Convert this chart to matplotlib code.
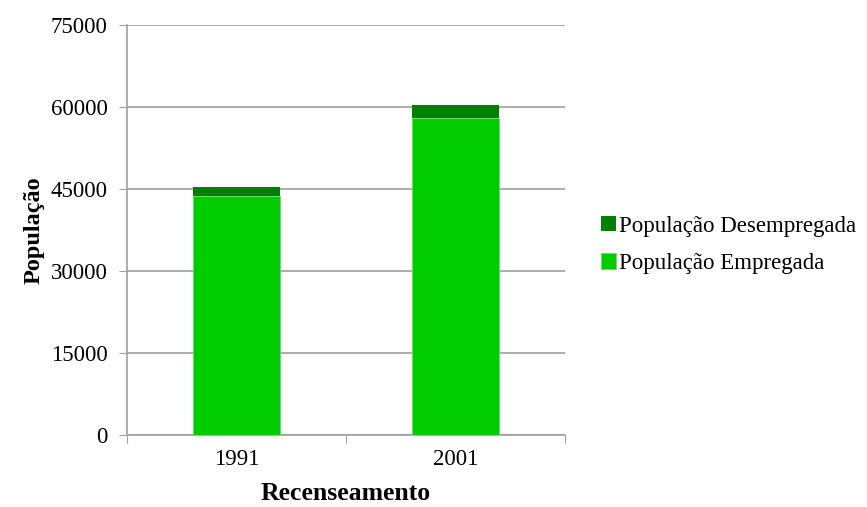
import matplotlib
matplotlib.use("Agg")
import matplotlib.pyplot as plt
import numpy as np

# Census data
anos = ["1991", "2001"]
empregada = [43700, 58000]
desempregada = [1600, 2400]
yticks = [0, 15000, 30000, 45000, 60000, 75000]

plt.rcParams["font.family"] = ["Liberation Serif", "DejaVu Serif"]

fig = plt.figure(figsize=(8.67, 5.07), dpi=100)
ax = fig.add_axes([0.1465, 0.142, 0.505, 0.8087])

x = np.arange(len(anos))
b1 = ax.bar(x, empregada, width=0.4, color="#00CC00", edgecolor="#66DD66",
            linewidth=0.6, label="População Empregada", zorder=3)
b2 = ax.bar(x, desempregada, width=0.4, bottom=empregada, color="#008000",
            label="População Desempregada", zorder=3)

ax.set_xlim(-0.5, 1.5)
ax.set_ylim(0, 75000)
ax.set_yticks(yticks)
ax.set_yticklabels([str(v) for v in yticks])
ax.yaxis.grid(True, color="#A0A0A0", linewidth=1.2, zorder=0)

# category boundary ticks on the x axis, labels centered
ax.set_xticks([-0.5, 0.5, 1.5])
ax.set_xticklabels([])
ax.set_xticks(x, minor=True)
ax.set_xticklabels(anos, minor=True)
ax.tick_params(axis="x", which="minor", length=0, pad=10)
ax.tick_params(axis="x", which="major", length=6, color="#A0A0A0")
ax.tick_params(axis="y", length=6, color="#A0A0A0", pad=8)
ax.tick_params(which="both", labelsize=16.5)

for s in ["top", "right"]:
    ax.spines[s].set_visible(False)
for s in ["left", "bottom"]:
    ax.spines[s].set_color("#A0A0A0")
    ax.spines[s].set_linewidth(1.2)

ax.set_xlabel("Recenseamento", fontsize=18.5, fontweight="bold", labelpad=9)
ax.set_ylabel("População", fontsize=17.5, fontweight="bold", labelpad=4)

fig.legend(handles=[b2, b1], loc="center left", bbox_to_anchor=(0.669, 0.517),
           frameon=False, fontsize=16.5, handlelength=0.65, handleheight=0.65,
           handletextpad=0.15, labelspacing=0.72)

fig.savefig("out.png", dpi=100)
